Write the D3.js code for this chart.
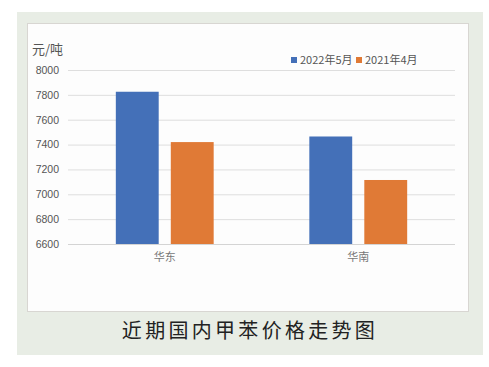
<!DOCTYPE html>
<html>
<head>
<meta charset="utf-8">
<script src="https://cdn.jsdelivr.net/npm/d3@7"></script>
<style>
  html, body { margin: 0; padding: 0; background: #fff; }
  svg { display: block; font-family: "Noto Sans CJK SC", "Noto Sans", sans-serif; }
</style>
</head>
<body>
<div id="viz"></div>
<script>
// 近期国内甲苯价格走势图 — grouped bars

const REGIONS = ["华东", "华南"];
const SERIES = ["2022年5月", "2021年4月"];
const PRICE_2022_05 = [7825, 7465];
const PRICE_2021_04 = [7420, 7115];
const Y_TICKS = [6600, 6800, 7000, 7200, 7400, 7600, 7800, 8000];
const COLORS = ["#4470b8", "#e07a36"];

const width = 489, height = 367;

const svg = d3.select("#viz").append("svg")
  .attr("width", width)
  .attr("height", height);

// green frame + white chart panel
svg.append("rect")
  .attr("x", 17).attr("y", 12)
  .attr("width", 466).attr("height", 343)
  .attr("fill", "#e8ede5");

svg.append("rect")
  .attr("x", 27.5).attr("y", 23.5)
  .attr("width", 441).attr("height", 288)
  .attr("fill", "#fdfdfd")
  .attr("stroke", "#d8d6d2");

const plot = { left: 68, right: 455, top: 70, bottom: 244 };

const y = d3.scaleLinear()
  .domain([6600, 8000])
  .range([plot.bottom, plot.top]);

const x0 = d3.scaleBand()
  .domain(REGIONS)
  .range([plot.left, plot.right])
  .padding(0);

const x1 = d3.scaleBand()
  .domain(SERIES)
  .range([0, x0.bandwidth()])
  .paddingInner(0.22)
  .paddingOuter(0.87);

const color = d3.scaleOrdinal().domain(SERIES).range(COLORS);

// gridlines
svg.append("g")
  .selectAll("line")
  .data(Y_TICKS)
  .enter().append("line")
  .attr("x1", plot.left).attr("x2", plot.right)
  .attr("y1", d => y(d) + 0.5).attr("y2", d => y(d) + 0.5)
  .attr("stroke", d => d === 6600 ? "#d4d4d4" : "#dedede")
  .attr("stroke-width", d => d === 6600 ? 1.2 : 1);

// y axis labels
const yAxis = d3.axisLeft(y).tickValues(Y_TICKS).tickFormat(d3.format("d"))
  .tickSize(0).tickPadding(0);
const yg = svg.append("g")
  .attr("transform", `translate(${plot.left - 9},0)`)
  .call(yAxis);
yg.select(".domain").remove();
yg.selectAll("text")
  .attr("fill", "#555")
  .attr("font-size", 10.5)
  .attr("font-family", "Liberation Sans, Arial, sans-serif");

// unit label
svg.append("text")
  .attr("x", 32).attr("y", 54)
  .attr("fill", "#555")
  .attr("font-size", 13)
  .text("元/吨");

// bars
const rows = REGIONS.map((r, i) => ({
  region: r,
  values: [
    { key: SERIES[0], value: PRICE_2022_05[i] },
    { key: SERIES[1], value: PRICE_2021_04[i] }
  ]
}));

svg.append("g")
  .selectAll("g")
  .data(rows)
  .enter().append("g")
  .attr("transform", d => `translate(${x0(d.region)},0)`)
  .selectAll("rect")
  .data(d => d.values)
  .enter().append("rect")
  .attr("x", d => x1(d.key))
  .attr("width", x1.bandwidth())
  .attr("y", d => y(d.value))
  .attr("height", d => y(6600) - y(d.value))
  .attr("fill", d => color(d.key));

// category labels
const xAxis = d3.axisBottom(x0).tickSize(0).tickPadding(0);
const xg = svg.append("g")
  .attr("transform", `translate(0,${plot.bottom + 9})`)
  .call(xAxis);
xg.select(".domain").remove();
xg.selectAll("text")
  .attr("fill", "#777")
  .attr("font-size", 11)
  .attr("font-family", "Noto Sans CJK SC, sans-serif");

// legend
const legendX = [291, 356];
const legend = svg.append("g")
  .selectAll("g")
  .data(SERIES)
  .enter().append("g")
  .attr("transform", (d, i) => `translate(${legendX[i]},57)`);

legend.append("rect")
  .attr("width", 6).attr("height", 6)
  .attr("fill", d => color(d));

legend.append("text")
  .attr("x", 9).attr("y", 6.5)
  .attr("fill", "#555")
  .attr("font-size", 11)
  .text(d => d);

// caption
svg.append("text")
  .attr("x", 250).attr("y", 338)
  .attr("text-anchor", "middle")
  .attr("fill", "#222")
  .attr("font-size", 20)
  .attr("letter-spacing", 3.3)
  .text("近期国内甲苯价格走势图");
</script>
</body>
</html>
